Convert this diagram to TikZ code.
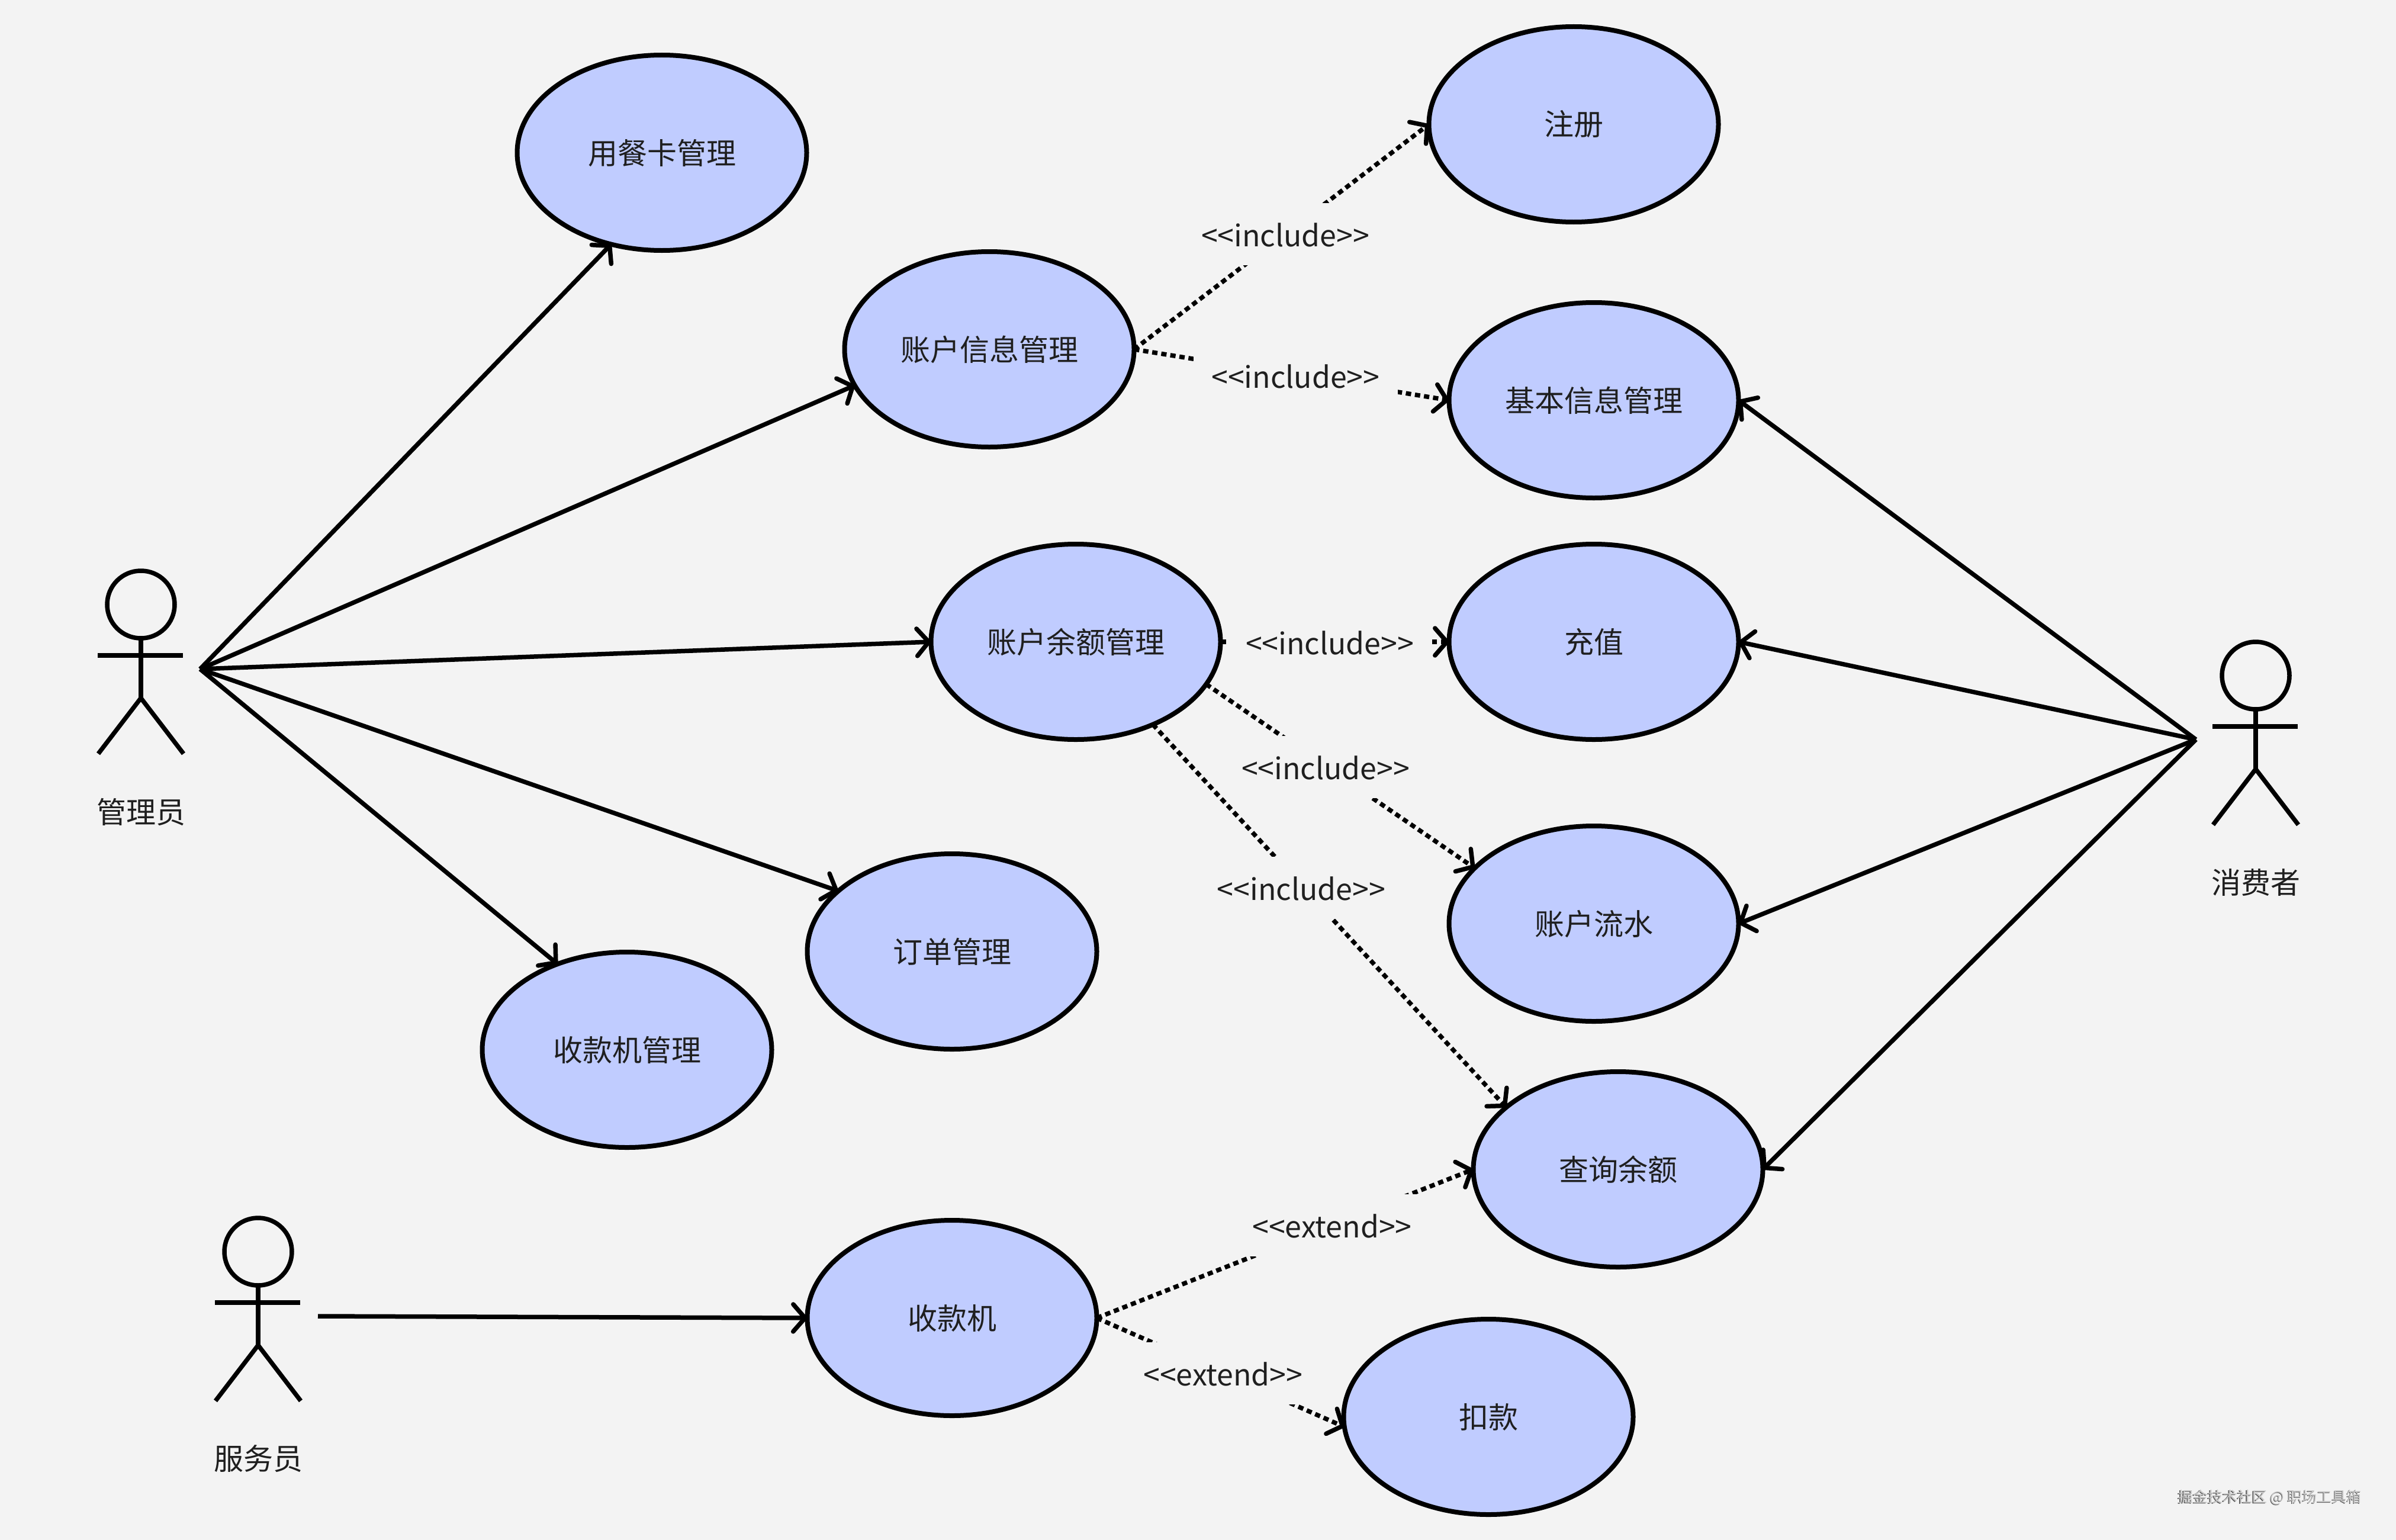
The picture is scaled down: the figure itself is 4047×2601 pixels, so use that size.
\documentclass[tikz,border=0pt]{standalone}
\usepackage{fontspec}
\setmainfont{Noto Sans CJK SC}
\usetikzlibrary{arrows.meta,shapes.geometric}
\definecolor{pagebg}{HTML}{F3F3F3}
\definecolor{ucfill}{HTML}{C0CCFF}
\definecolor{inkc}{HTML}{1F1F1F}
\tikzset{
  usecase/.style={ellipse,draw=black,fill=ucfill,line width=8pt,minimum width=489pt,minimum height=330pt,inner sep=0pt,outer sep=0pt,text=inkc,text height=46pt,text depth=8pt,font=\fontsize{50}{60}\selectfont},
  barb/.style={-{Straight Barb[length=20pt,width=46pt,line width=7.5pt,round]}},
  assoc/.style={draw=black,line width=7.5pt,barb},
  dep/.style={draw=black,line width=7.5pt,dash pattern=on 9pt off 6.5pt,barb},
  deplabel/.style={fill=pagebg,inner sep=0pt,minimum width=345pt,minimum height=105pt,text=inkc,text height=50pt,text depth=8pt,font=\fontsize{50}{60}\selectfont},
  actorline/.style={draw=black,line width=7.5pt},
  actorlabel/.style={text=inkc,text height=46pt,text depth=8pt,font=\fontsize{50}{60}\selectfont},
  mark/.style={text=#1,font=\fontsize{25}{30}\selectfont}
}
\newcommand{\stickman}[3]{%
  \begin{scope}[shift={(#1,#2)}]
    \node[circle,actorline,minimum size=114pt,inner sep=0pt,outer sep=0pt] (#3head) at (238,1021) {};
    \draw[actorline] (#3head.south) -- (238,1179) coordinate (#3hip);
    \draw[actorline] (165,1107) -- (309,1107);
    \draw[actorline,line join=miter] (166,1273) -- (#3hip) -- (310,1273);
  \end{scope}}
\begin{document}
\begin{tikzpicture}[x=1pt,y=-1pt]
\path[fill=pagebg,use as bounding box] (0,0) rectangle (4047,2601);
\stickman{0}{0}{adm}
\stickman{3572}{120}{con}
\stickman{198}{1093}{cle}
\node[actorlabel] (admlabel) at (238,1371) {管理员};
\node[actorlabel] (conlabel) at (3810,1490) {消费者};
\node[actorlabel] (clelabel) at (436,2463) {服务员};
\coordinate (admhub) at (338,1130);
\coordinate (conhub) at (3709,1249);
\coordinate (clehub) at (537,2223);

\node[usecase] (card) at (1118,258) {用餐卡管理};
\node[usecase] (info) at (1671,590) {账户信息管理};
\node[usecase] (bal) at (1817,1084) {账户余额管理};
\node[usecase] (order) at (1608,1607) {订单管理};
\node[usecase] (posm) at (1059,1773) {收款机管理};
\node[usecase] (pos) at (1608,2226) {收款机};
\node[usecase] (reg) at (2658,210) {注册};
\node[usecase] (basic) at (2692,676) {基本信息管理};
\node[usecase] (topup) at (2692,1084) {充值};
\node[usecase] (flow) at (2692,1560) {账户流水};
\node[usecase] (query) at (2733,1975) {查询余额};
\node[usecase] (deduct) at (2514,2393) {扣款};

\draw[assoc] (admhub) -- (card.241);
\draw[assoc] (admhub) -- (info.195.4);
\draw[assoc] (admhub) -- (bal.west);
\draw[assoc] (admhub) -- (order.152.5);
\draw[assoc] (admhub) -- (posm.129.3);
\draw[assoc] (clehub) -- (pos.west);
\draw[assoc] (conhub) -- (basic.east);
\draw[assoc] (conhub) -- (topup.east);
\draw[assoc] (conhub) -- (flow.east);
\draw[assoc] (conhub) -- (query.east);

\draw[dep] (info.east) -- node[deplabel,pos=.513] (l1) {<{}<include>{}>} (reg.west);
\draw[dep] (info.east) -- node[deplabel,pos=.513] (l2) {<{}<include>{}>} (basic.west);
\draw[dep] (bal.east) -- node[deplabel,pos=.478] (l3) {<{}<include>{}>} (topup.west);
\draw[dep] (bal.-18.2) -- node[deplabel,pos=.445,yshift=-2pt] (l4) {<{}<include>{}>} (flow.155.5);
\draw[dep] (bal.-47.5) -- node[deplabel,pos=.42,yshift=-4pt] (l5) {<{}<include>{}>} (query.151.6);
\draw[dep] (pos.east) -- node[deplabel,pos=.625] (l6) {<{}<extend>{}>} (query.west);
\draw[dep] (pos.east) -- node[deplabel,pos=.51] (l7) {<{}<extend>{}>} (deduct.184.2);

\node[mark=black!65] (wm2) at (3832.5,2530.5) {掘金技术社区 @ 职场工具箱};
\node[mark=black!22] (wm1) at (3834,2529) {掘金技术社区 @ 职场工具箱};
\end{tikzpicture}
\end{document}
